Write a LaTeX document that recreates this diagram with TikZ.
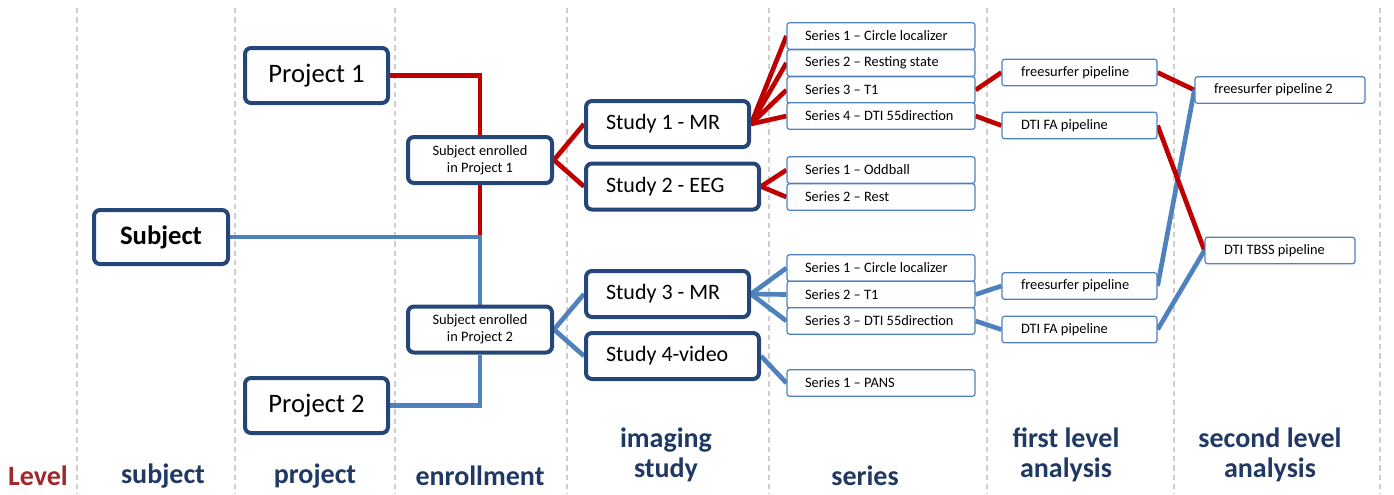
\documentclass[tikz,border=0pt]{standalone}
\usepackage{fontspec}
\setmainfont{Carlito}
\usetikzlibrary{backgrounds}
\definecolor{boxblue}{RGB}{36,70,120}
\definecolor{lblue}{RGB}{31,56,100}
\definecolor{linered}{RGB}{192,0,0}
\definecolor{lineblue}{RGB}{79,129,189}
\definecolor{thinblue}{RGB}{79,129,189}
\definecolor{levelred}{RGB}{160,40,42}
\definecolor{gridgray}{RGB}{205,205,205}
\tikzset{
  bigbox/.style={draw=boxblue, line width=3pt, rounded corners=4.5pt, fill=white, inner sep=0pt, font=\fontsize{20}{22}\selectfont},
  studybox/.style={bigbox, align=flush left, inner xsep=15pt, inner ysep=0pt, font=\fontsize{16.5}{18}\selectfont},
  midbox/.style={bigbox, font=\fontsize{10.8}{13}\selectfont, align=center},
  serbox/.style={draw=thinblue, line width=0.9pt, rounded corners=2pt, fill=white, minimum height=20pt, inner ysep=0pt, inner xsep=13.5pt, font=\fontsize{10.8}{12}\selectfont, align=flush left},
  redline/.style={draw=linered, line width=3.5pt},
  blueline/.style={draw=lineblue, line width=3.5pt},
  grid/.style={draw=gridgray, line width=1pt, dash pattern=on 4pt off 3pt},
  lvl/.style={font=\bfseries\fontsize{21}{23}\selectfont, text=lblue, align=center},
  lvltwo/.style={lvl, font=\bfseries\fontsize{21}{22.5}\selectfont},
}
\begin{document}
\begin{tikzpicture}[x=0.75pt, y=-0.75pt]
\useasboundingbox (0,0) rectangle (1394,494);

% boxes
\node[bigbox, minimum width=100.5pt, minimum height=40.5pt, font=\bfseries\fontsize{20}{22}\selectfont] (subj) at (161,237) {Subject};
\node[bigbox, minimum width=107.25pt, minimum height=41.25pt] (p1) at (316.5,75.5) {Project 1};
\node[bigbox, minimum width=107.25pt, minimum height=41.25pt] (p2) at (316.5,405.5) {Project 2};
\node[midbox, minimum width=108pt, minimum height=34.5pt] (e1) at (480,160) {Subject enrolled\\in Project 1};
\node[midbox, minimum width=108pt, minimum height=34.5pt] (e2) at (480,329.5) {Subject enrolled\\in Project 2};

\node[studybox, text width=92.25pt, minimum height=34.5pt] (s1) at (667.5,124) {Study 1 - MR};
\node[studybox, text width=99.75pt, minimum height=34.5pt] (s2) at (672.5,186.5) {Study 2 - EEG};
\node[studybox, text width=92.25pt, minimum height=34.5pt] (s3) at (667.5,294) {Study 3 - MR};
\node[studybox, text width=99.75pt, minimum height=34.5pt] (s4) at (672.5,356) {Study 4-video};

% series
\begin{scope}[every node/.style={serbox, text width=114pt}]
\node (r1) at (881,36) {Series 1 – Circle localizer};
\node (r2) at (881,63) {Series 2 – Resting state};
\node (r3) at (881,90) {Series 3 – T1};
\node (r4) at (881,116) {Series 4 – DTI 55direction};
\node (r5) at (881,170) {Series 1 – Oddball};
\node (r6) at (881,197) {Series 2 – Rest};
\node (b1) at (881,268) {Series 1 – Circle localizer};
\node (b2) at (881,294.5) {Series 2 – T1};
\node (b3) at (881,321) {Series 3 – DTI 55direction};
\node (b4) at (881,383) {Series 1 – PANS};
\end{scope}

% first level
\begin{scope}[every node/.style={serbox, text width=87.75pt, inner xsep=14.25pt}]
\node (f1) at (1079.5,72.5) {freesurfer pipeline};
\node (f2) at (1079.5,125.5) {DTI FA pipeline};
\node (f3) at (1079.5,286) {freesurfer pipeline};
\node (f4) at (1079.5,329.5) {DTI FA pipeline};
\end{scope}
% second level
\node[serbox, text width=99pt, inner xsep=14.25pt] (g1) at (1280,90) {freesurfer pipeline 2};
\node[serbox, text width=84pt, inner xsep=14.25pt] (g2) at (1280,250.5) {DTI TBSS pipeline};

% level labels
\node[lvl, text=levelred] (lv0) at (38,476) {Level};
\node[lvl] (lv1) at (163,476) {subject};
\node[lvl] (lv2) at (315,476) {project};
\node[lvl] (lv3) at (480,476) {enrollment};
\node[lvltwo] (lv4) at (666,455) {imaging\\study};
\node[lvl] (lv5) at (865,476) {series};
\node[lvltwo] (lv6) at (1066,455) {first level\\analysis};
\node[lvltwo] (lv7) at (1270,455) {second level\\analysis};

\begin{scope}[on background layer]
\foreach \gx in {77,235,395,567,769,987,1174,1380}
  \draw[grid] (\gx,8) -- (\gx,494);

\draw[redline] (p1.east) -| (e1.north);
\coordinate (j) at (subj.east -| e1.south);
\draw[redline] (e1.south) -- (j);
\draw[blueline] (subj.east) -| (e2.north);
\draw[blueline] (p2.east) -| (e2.south);

\draw[redline] (e1.east) -- (s1.west);
\draw[redline] (e1.east) -- (s2.west);
\draw[blueline] (e2.east) -- (s3.west);
\draw[blueline] (e2.east) -- (s4.west);

\foreach \r in {r1,r2,r3,r4} \draw[redline] (s1.east) -- (\r.west);
\foreach \r in {r5,r6} \draw[redline] (s2.east) -- (\r.west);
\foreach \r in {b1,b2,b3} \draw[blueline] (s3.east) -- (\r.west);
\draw[blueline] (s4.east) -- (b4.west);

\draw[redline] (r3.east) -- (f1.west);
\draw[redline] (r4.east) -- (f2.west);
\draw[blueline] (b2.east) -- (f3.west);
\draw[blueline] (b3.east) -- (f4.west);

\draw[redline] (f1.east) -- (g1.west);
\draw[blueline] (f3.east) -- (g1.west);
\draw[redline] (f2.east) -- (g2.west);
\draw[blueline] (f4.east) -- (g2.west);
\end{scope}
\end{tikzpicture}
\end{document}
